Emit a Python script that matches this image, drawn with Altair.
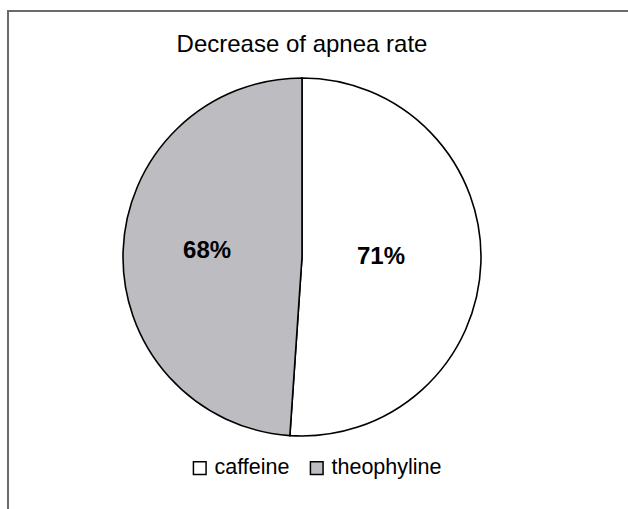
import altair as alt
import pandas as pd

title_text = "Decrease of apnea rate"
categories = ["caffeine", "theophyline"]
values = [71, 68]
fill_colors = ["#ffffff", "#bdbdc1"]

df = pd.DataFrame({
    "drug": categories,
    "value": values,
    "order": list(range(len(categories))),
    "label": [f"{v}%" for v in values],
})

W, H = 628, 509
CX, CY = 302, 257
R = 179
FONT = "Liberation Sans"

color = alt.Color(
    "drug:N",
    scale=alt.Scale(domain=categories, range=fill_colors),
    legend=alt.Legend(
        title=None,
        orient="none",
        legendX=189,
        legendY=457,
        direction="horizontal",
        symbolType="square",
        symbolSize=160,
        symbolStrokeColor="black",
        symbolStrokeWidth=1.5,
        symbolOpacity=1,
        labelFont=FONT,
        labelFontSize=21.5,
        labelColor="black",
        labelOffset=4,
        columnPadding=16,
        padding=0,
    ),
)

pie = alt.Chart(df).mark_arc(
    outerRadius=R, stroke="black", strokeWidth=1.6, opacity=1
).encode(
    theta=alt.Theta("value:Q", stack=True),
    order=alt.Order("order:Q"),
    color=color,
    x=alt.value(CX),
    y=alt.value(CY),
)

label_base = alt.Chart(df).transform_window(
    cum="sum(value)", sort=[{"field": "order"}]
).transform_joinaggregate(
    total="sum(value)"
).transform_calculate(
    mid_angle="2*PI*(datum.cum - datum.value/2)/datum.total"
)

def label_layer(cat, radius):
    return label_base.transform_filter(
        alt.datum.drug == cat
    ).mark_text(
        radius=radius, font=FONT, fontSize=24, fontWeight="bold", color="black", dy=-3
    ).encode(
        theta=alt.Theta("mid_angle:Q", scale=None, stack=False),
        text="label:N",
        x=alt.value(CX),
        y=alt.value(CY),
    )

labels = label_layer("caffeine", 79) + label_layer("theophyline", 95)

title = alt.Chart(pd.DataFrame({"t": [title_text]})).mark_text(
    font=FONT, fontSize=24, color="black", baseline="middle"
).encode(text="t:N", x=alt.value(CX), y=alt.value(45))

frame_df = pd.DataFrame({"k": [0]})
frame_top = alt.Chart(frame_df).mark_rule(color="#6a6a6a", strokeWidth=2).encode(
    x=alt.value(7), x2=alt.value(W), y=alt.value(11)
)
frame_left = alt.Chart(frame_df).mark_rule(color="#6a6a6a", strokeWidth=2).encode(
    x=alt.value(8), y=alt.value(10), y2=alt.value(H)
)

chart = alt.layer(frame_top, frame_left, pie, labels, title).properties(
    width=W, height=H, padding=0, autosize=alt.AutoSizeParams(type="none")
).configure_view(stroke=None)

chart.save("out.html", embed_options={"renderer": "svg", "actions": False})
